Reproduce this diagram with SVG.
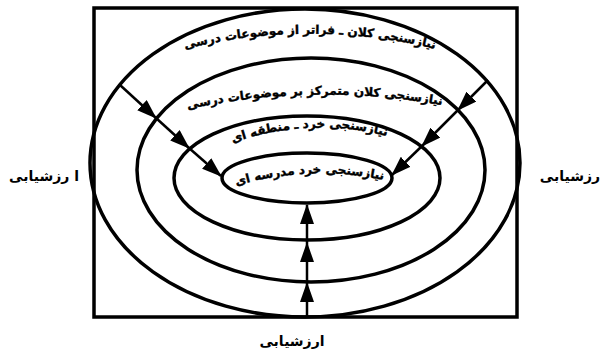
<svg xmlns="http://www.w3.org/2000/svg" width="603" height="358" viewBox="0 0 603 358">
<style>
.ring{fill:none;stroke:#000;stroke-width:3.5}
.frame{fill:none;stroke:#000;stroke-width:3.5}
.arr{fill:none;stroke:#000;stroke-width:2.5;marker-end:url(#head)}
.lbl{font-family:"DejaVu Sans",sans-serif;font-weight:bold;font-size:12px;fill:#000;stroke:#000;stroke-width:0.4}
.side{font-family:"DejaVu Sans",sans-serif;font-weight:bold;font-size:14px;fill:#000}
</style>
<defs>
<marker id="head" markerUnits="userSpaceOnUse" markerWidth="20" markerHeight="14" viewBox="0 0 20 14" refX="19" refY="7" orient="auto">
<path d="M0,0 L20,7 L0,14 z" fill="#000"/>
</marker>
<path id="p1" d="M 150 59 A 520 520 0 0 1 470 59"/>
<path id="p2" d="M 160 116 A 650 650 0 0 1 470 111"/>
<path id="p3" d="M 220 148 A 260 260 0 0 1 400 140"/>
<path id="p4" d="M 220 191 A 300 300 0 0 1 400 184"/>
</defs>
<rect class="frame" x="94" y="8" width="423" height="309"/>
<g id="ring-outer">
<ellipse class="ring" cx="305" cy="163" rx="215" ry="154"/>
<text class="lbl"><textPath href="#p1" startOffset="50%" text-anchor="middle">نیازسنجی کلان ـ فراتر از موضوعات درسی</textPath></text>
</g>
<g id="ring-second">
<ellipse class="ring" cx="311" cy="170" rx="174" ry="112"/>
<text class="lbl"><textPath href="#p2" startOffset="50%" text-anchor="middle">نیازسنجی کلان متمرکز بر موضوعات درسی</textPath></text>
</g>
<g id="ring-third">
<ellipse class="ring" cx="307" cy="178" rx="133" ry="62"/>
<text class="lbl"><textPath href="#p3" startOffset="50%" text-anchor="middle">نیازسنجی خرد ـ منطقه ای</textPath></text>
</g>
<g id="ring-inner">
<ellipse class="ring" cx="307" cy="178" rx="85" ry="25"/>
<text class="lbl"><textPath href="#p4" startOffset="50%" text-anchor="middle">نیازسنجی خرد مدرسه ای</textPath></text>
</g>
<g id="label-left"><text class="side" x="44" y="181" text-anchor="middle">ا رزشیابی</text></g>
<g id="label-right"><text class="side" x="570" y="181" text-anchor="middle">رزشیابی</text></g>
<g id="label-bottom"><text class="side" x="292" y="346" text-anchor="middle">ارزشیابی</text></g>
<g id="connectors">
<line class="arr" x1="120" y1="85" x2="156" y2="118"/>
<line class="arr" x1="156" y1="118" x2="189" y2="148"/>
<line class="arr" x1="189" y1="148" x2="221" y2="176"/>
<line class="arr" x1="488" y1="80" x2="458" y2="110"/>
<line class="arr" x1="458" y1="110" x2="422" y2="146"/>
<line class="arr" x1="422" y1="146" x2="392" y2="175"/>
<line class="arr" x1="307" y1="317" x2="307" y2="283"/>
<line class="arr" x1="307" y1="283" x2="307" y2="243"/>
<line class="arr" x1="307" y1="243" x2="307" y2="205"/>
</g>
</svg>
